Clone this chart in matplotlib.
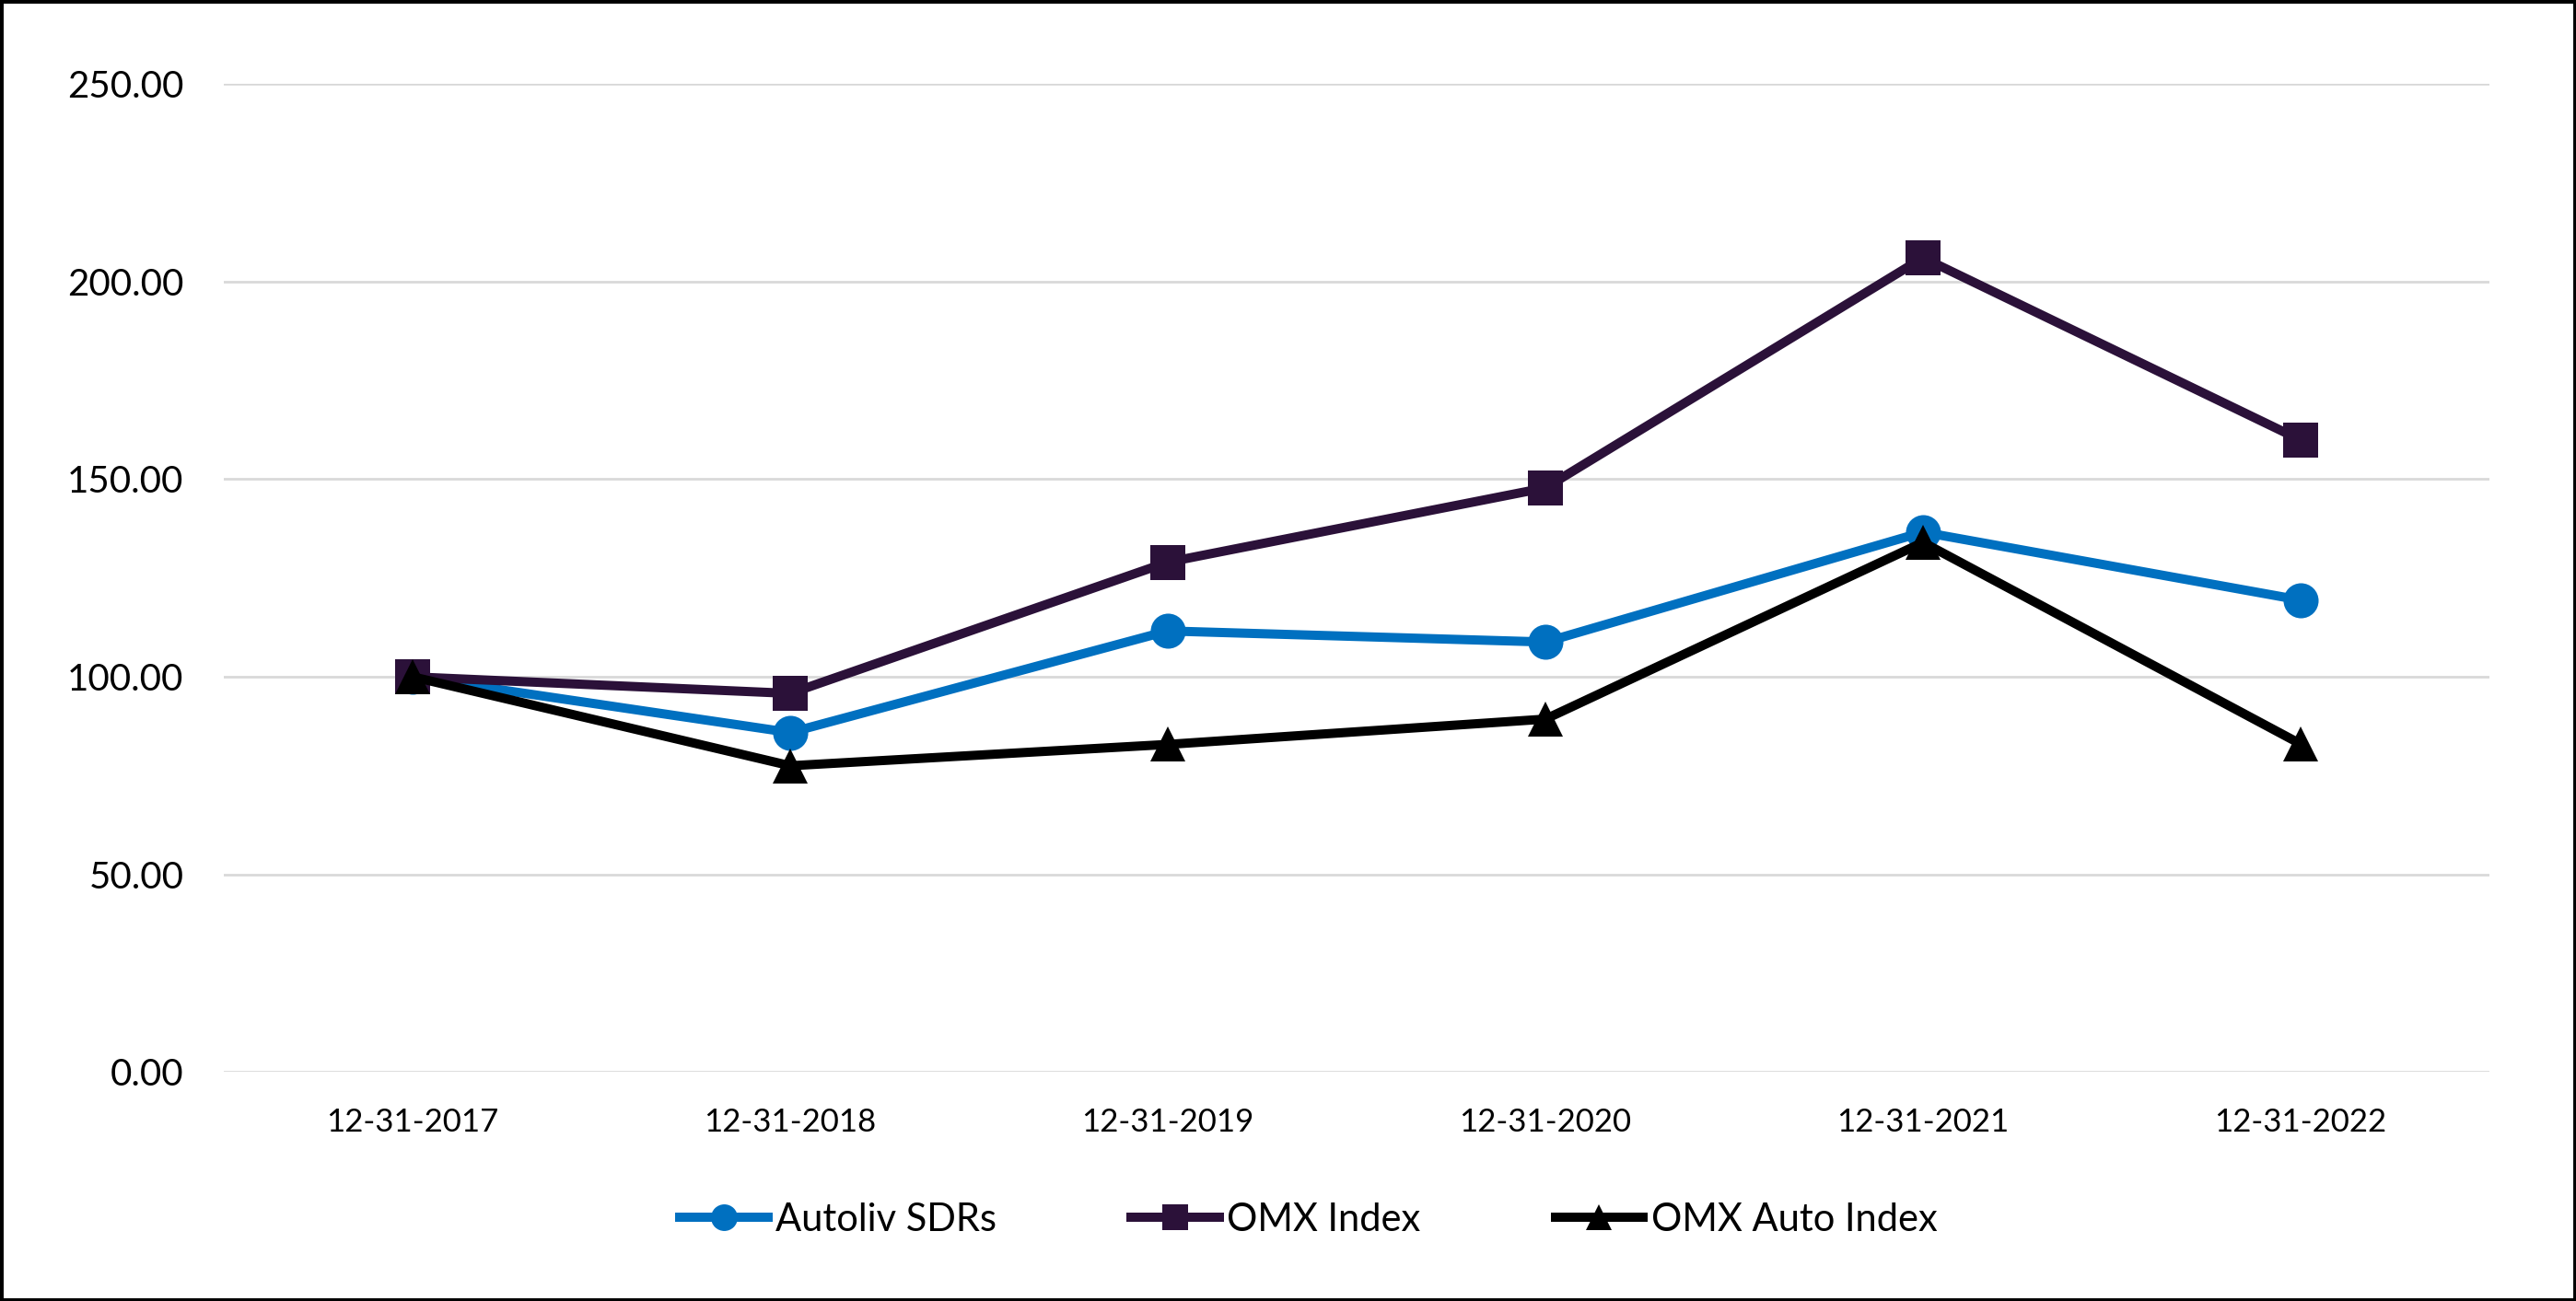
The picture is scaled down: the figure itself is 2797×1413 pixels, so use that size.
import matplotlib.pyplot as plt
from matplotlib.patches import Rectangle

plt.rcParams['font.family'] = ['Lato', 'DejaVu Sans']

dates = ['12-31-2017', '12-31-2018', '12-31-2019', '12-31-2020', '12-31-2021', '12-31-2022']
autoliv = [100.0, 85.9, 111.6, 108.8, 136.6, 119.4]
omx = [100.0, 95.8, 129.0, 147.8, 206.0, 159.9]
omx_auto = [100.0, 77.5, 82.9, 89.3, 134.0, 83.0]

fig = plt.figure(figsize=(27.97, 14.13), dpi=100)
ax = fig.add_axes([0.0869, 0.1759, 0.8795, 0.7597])

x = range(len(dates))
ms = 27.4
lw = 7.2
ax.plot(x, autoliv, color='#0070C0', lw=lw, marker='o', ms=ms, mew=0, label='Autoliv SDRs')
ax.plot(x, omx, color='#2B1139', lw=lw, marker='s', ms=ms, mew=0, label='OMX Index')
ax.plot(x, omx_auto, color='#000000', lw=lw, marker='^', ms=ms, mew=0, label='OMX Auto Index')

ax.set_xlim(-0.5, len(dates) - 0.5)
ax.set_ylim(0, 250)
ax.set_yticks([0, 50, 100, 150, 200, 250])
ax.set_yticklabels(['%.2f' % v for v in [0, 50, 100, 150, 200, 250]])
ax.set_xticks(list(x))
ax.set_xticklabels(dates)
ax.tick_params(axis='y', length=0, pad=31.5, labelsize=29)
ax.tick_params(axis='x', length=0, pad=28, labelsize=25)
ax.grid(axis='y', color='#D9D9D9', lw=2)
ax.set_axisbelow(True)
for s in ax.spines.values():
    s.set_visible(False)

fig.legend(loc='center', bbox_to_anchor=(0.508, 0.0623), ncol=3, frameon=False,
           fontsize=30, handlelength=2.3, handletextpad=0.2, columnspacing=3.5,
           markerscale=0.76)

# outer border
fig.patches.append(Rectangle((0, 0), 1, 1, transform=fig.transFigure, fill=False,
                             edgecolor='black', lw=5, clip_on=False))

fig.savefig('out.png', dpi=100)
